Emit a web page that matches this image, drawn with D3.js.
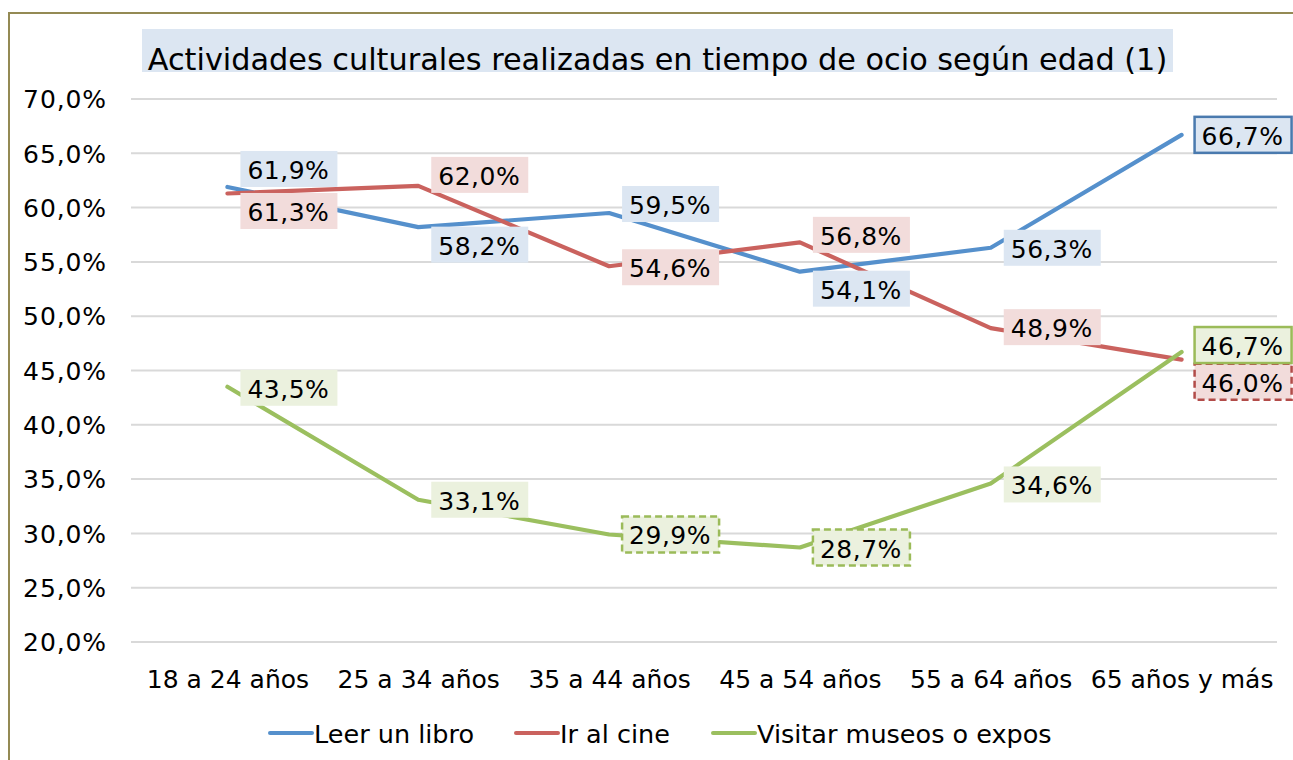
<!DOCTYPE html>
<html><head><meta charset="utf-8">
<script src="https://cdn.jsdelivr.net/npm/d3@7/dist/d3.min.js"></script>
<style>
html,body{margin:0;padding:0;background:#fff;}
svg{display:block;font-family:"DejaVu Sans",Verdana,sans-serif;}
</style></head>
<body>
<svg id="chart" width="1293" height="760"></svg>
<script>
const title = "Actividades culturales realizadas en tiempo de ocio según edad (1)";
const categories = ["18 a 24 años","25 a 34 años","35 a 44 años","45 a 54 años","55 a 64 años","65 años y más"];
const seriesNames = ["Leer un libro","Ir al cine","Visitar museos o expos"];
const leerLibro = [61.9, 58.2, 59.5, 54.1, 56.3, 66.7];
const irCine = [61.3, 62.0, 54.6, 56.8, 48.9, 46.0];
const museos = [43.5, 33.1, 29.9, 28.7, 34.6, 46.7];
const yTicks = [20, 25, 30, 35, 40, 45, 50, 55, 60, 65, 70];

// layout / style (not data)
const colors = ["#5590cc", "#ca625e", "#9bbf5f"];
const boxFills = ["#dce6f2", "#f2dcdb", "#ebf1de"];
const labelNudge = [
  [-18, 17.5, -9, 17, 0, 0],
  [17.5, -11, 1, -7.5, -1, 22],
  [1, 0, 0, 0, 1, -7]
];
const labelBorder = [
  [null, null, null, null, null, {c:"#4a7aae", dash:null}],
  [null, null, null, null, null, {c:"#b24c49", dash:"7,4"}],
  [null, null, {c:"#9bbb59", dash:"7,4"}, {c:"#9bbb59", dash:"7,4"}, null, {c:"#9bbb59", dash:null}]
];

const svg = d3.select("#chart");
const fmt = v => d3.format(".1f")(v).replace(".", ",") + "%";
const FONT = '"DejaVu Sans",Verdana,sans-serif';

// outer border
svg.append("rect").attr("x", 9).attr("y", 13).attr("width", 1400).attr("height", 800)
  .attr("fill", "#fff").attr("stroke", "#948a54").attr("stroke-width", 2);

const x = d3.scalePoint().domain(categories).range([132, 1277]).padding(0.5);
const y = d3.scaleLinear().domain([20, 70]).range([642, 99]);

// gridlines
svg.append("g").selectAll("line").data(yTicks).join("line")
  .attr("x1", 131).attr("x2", 1277)
  .attr("y1", d => y(d)).attr("y2", d => y(d))
  .attr("stroke", "#d9d9d9").attr("stroke-width", 2);

// y axis
const yAxis = d3.axisLeft(y).tickValues(yTicks).tickFormat(fmt).tickSize(0).tickPadding(0);
const gy = svg.append("g").attr("transform", "translate(107,0)").call(yAxis);
gy.select(".domain").remove();
gy.selectAll("text").attr("font-size", 25).attr("fill", "#000")
  .attr("font-family", FONT).attr("dy", "0.35em").attr("letter-spacing", 0.9);

// x axis
const xAxis = d3.axisBottom(x).tickSize(0).tickPadding(0);
const gx = svg.append("g").attr("transform", "translate(0,670)").call(xAxis);
gx.select(".domain").remove();
gx.selectAll("text").attr("font-size", 25).attr("fill", "#000")
  .attr("font-family", FONT).attr("dy", "0.71em");

// title
const tg = svg.append("g");
tg.append("rect").attr("x", 142).attr("y", 29).attr("width", 1031).attr("height", 43).attr("fill", "#dce6f2");
tg.append("text").attr("x", 657.5).attr("y", 70).attr("text-anchor", "middle")
  .attr("font-size", 30.3).attr("fill", "#000").text(title);

// lines
const allSeries = [leerLibro, irCine, museos];
const line = d3.line().x((d, i) => x(categories[i])).y(d => y(d));
allSeries.forEach((s, k) => {
  svg.append("path").datum(s).attr("d", line).attr("fill", "none")
    .attr("stroke", colors[k]).attr("stroke-width", 4.2).attr("stroke-linejoin", "round").attr("stroke-linecap", "round");
});

// labels
const boxW = 97, boxH = 36;
allSeries.forEach((s, k) => {
  s.forEach((v, i) => {
    const cx = x(categories[i]) + 13;
    const cy = y(v) + labelNudge[k][i];
    const g = svg.append("g");
    const b = labelBorder[k][i];
    g.append("rect").attr("x", cx).attr("y", cy - boxH / 2).attr("width", boxW).attr("height", boxH)
      .attr("fill", boxFills[k])
      .attr("stroke", b ? b.c : "none").attr("stroke-width", b ? 2.5 : 0)
      .attr("stroke-dasharray", b && b.dash ? b.dash : null);
    g.append("text").attr("x", cx + 7).attr("y", cy).attr("dy", "0.4em")
      .attr("font-size", 25).attr("fill", "#000").attr("letter-spacing", 0.5).text(fmt(v));
  });
});

// legend
const legendX = [270, 516, 713];
seriesNames.forEach((n, k) => {
  svg.append("line").attr("x1", legendX[k]).attr("x2", legendX[k] + 42).attr("y1", 733).attr("y2", 733)
    .attr("stroke", colors[k]).attr("stroke-width", 4).attr("stroke-linecap", "round");
  svg.append("text").attr("x", legendX[k] + 44).attr("y", 733).attr("dy", "0.38em")
    .attr("font-size", 25.5).attr("fill", "#000").text(n);
});
</script>
</body></html>
